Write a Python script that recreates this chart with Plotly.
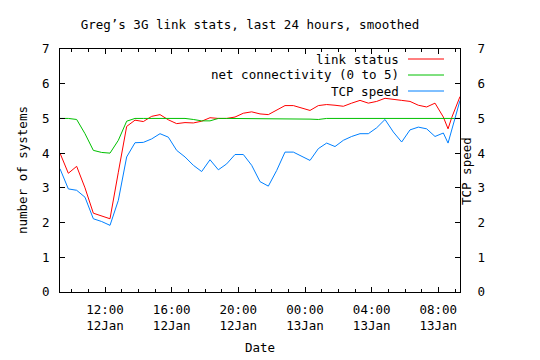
import plotly.graph_objects as go

times = [
    "2009-01-12 09:18", "2009-01-12 09:48", "2009-01-12 10:18", "2009-01-12 10:48",
    "2009-01-12 11:18", "2009-01-12 11:48", "2009-01-12 12:18", "2009-01-12 12:48",
    "2009-01-12 13:18", "2009-01-12 13:48", "2009-01-12 14:18", "2009-01-12 14:48",
    "2009-01-12 15:18", "2009-01-12 15:48", "2009-01-12 16:18", "2009-01-12 16:48",
    "2009-01-12 17:18", "2009-01-12 17:48", "2009-01-12 18:18", "2009-01-12 18:48",
    "2009-01-12 19:18", "2009-01-12 19:48", "2009-01-12 20:18", "2009-01-12 20:48",
    "2009-01-12 21:18", "2009-01-12 21:48", "2009-01-12 22:18", "2009-01-12 22:48",
    "2009-01-12 23:18", "2009-01-12 23:48", "2009-01-13 00:18", "2009-01-13 00:48",
    "2009-01-13 01:18", "2009-01-13 01:48", "2009-01-13 02:18", "2009-01-13 02:48",
    "2009-01-13 03:18", "2009-01-13 03:48", "2009-01-13 04:18", "2009-01-13 04:48",
    "2009-01-13 05:18", "2009-01-13 05:48", "2009-01-13 06:18", "2009-01-13 06:48",
    "2009-01-13 07:18", "2009-01-13 07:48", "2009-01-13 08:18", "2009-01-13 08:35",
    "2009-01-13 08:48", "2009-01-13 09:18",
]

link_status = [
    4.00, 3.42, 3.62, 3.00, 2.27, 2.19, 2.11, 3.45, 4.77, 4.95, 4.91, 5.06, 5.11,
    4.96, 4.85, 4.88, 4.87, 4.92, 5.02, 5.00, 5.00, 5.04, 5.15, 5.19, 5.13,
    5.11, 5.25, 5.37, 5.37, 5.31, 5.23, 5.37, 5.40, 5.38, 5.35, 5.44, 5.52,
    5.44, 5.49, 5.58, 5.54, 5.52, 5.49, 5.38, 5.33, 5.44, 5.04, 4.70, 5.02, 5.63,
]

net_connectivity = [
    5.00, 5.00, 4.97, 4.56, 4.08, 4.02, 4.00, 4.37, 4.92, 5.00, 5.00, 5.00, 5.00,
    5.00, 5.00, 5.00, 4.97, 4.93, 4.93, 5.00, 5.00, 5.00, 5.00, 5.00, 5.00,
    5.00, 5.00, 5.00, 5.00, 5.00, 4.98, 4.97, 5.00, 5.00, 5.00, 5.00, 5.00,
    5.00, 5.00, 5.02, 5.00, 5.00, 5.00, 5.00, 5.00, 5.00, 5.00, 5.00, 5.00, 5.00,
]

tcp_speed = [
    3.55, 2.97, 2.93, 2.73, 2.11, 2.03, 1.92, 2.64, 3.89, 4.30, 4.31, 4.41, 4.56,
    4.46, 4.08, 3.89, 3.65, 3.47, 3.81, 3.52, 3.69, 3.96, 3.96, 3.65, 3.18,
    3.05, 3.50, 4.03, 4.03, 3.91, 3.79, 4.13, 4.29, 4.19, 4.37, 4.48, 4.56,
    4.56, 4.73, 4.97, 4.61, 4.32, 4.67, 4.75, 4.70, 4.48, 4.58, 4.29, 4.65, 5.52,
]

series_names = ["link status", "net connectivity (0 to 5)", "TCP speed"]
series_colors = ["#ff0000", "#00c000", "#0080ff"]

FONT = "DejaVu Sans Mono"
FS = 12.5
W, H = 540, 360
L, R, T, B = 60, 80, 49, 68

fig = go.Figure()
fig.add_trace(go.Scatter(x=times, y=link_status, mode="lines", name=series_names[0],
                         line=dict(color=series_colors[0], width=1)))
fig.add_trace(go.Scatter(x=times, y=net_connectivity, mode="lines", name=series_names[1],
                         line=dict(color=series_colors[1], width=1)))
fig.add_trace(go.Scatter(x=times, y=tcp_speed, mode="lines", name=series_names[2],
                         line=dict(color=series_colors[2], width=1), yaxis="y2"))

fig.update_layout(
    width=W, height=H,
    margin=dict(l=L, r=R, t=T, b=B, autoexpand=False),
    paper_bgcolor="white", plot_bgcolor="white",
    showlegend=False,
    font=dict(family=FONT, size=FS, color="black"),
    title=dict(text="Greg\u2019s 3G link stats, last 24 hours, smoothed",
               x=250 / W, xref="container", xanchor="center",
               y=1 - 24.5 / H, yanchor="middle",
               font=dict(family=FONT, size=FS, color="black")),
    xaxis=dict(
        type="date", automargin=False,
        range=["2009-01-12 09:18", "2009-01-13 09:18"],
        tick0="2009-01-12 00:00", dtick=4 * 3600 * 1000,
        tickformat="%H:%M<br>%d%b",
        ticks="inside", ticklen=5, tickcolor="black", tickwidth=1,
        minor=dict(dtick=3600 * 1000, ticks="inside", ticklen=3, tickcolor="black", tickwidth=1),
        showline=True, linecolor="black", linewidth=1, mirror="ticks",
        showgrid=False, zeroline=False,
        title=dict(text="Date", standoff=10, font=dict(family=FONT, size=FS)),
        tickfont=dict(family=FONT, size=FS),
        ticklabelstandoff=6,
    ),
    yaxis=dict(
        range=[0, 7], dtick=1, automargin=False,
        ticks="inside", ticklen=5, tickcolor="black",
        showline=True, linecolor="black", linewidth=1, mirror=False,
        showgrid=False, zeroline=False,
        tickfont=dict(family=FONT, size=FS),
        ticklabelstandoff=7,
    ),
    yaxis2=dict(
        range=[0, 7], dtick=1, overlaying="y", side="right", automargin=False,
        ticks="inside", ticklen=5, tickcolor="black",
        showline=True, linecolor="black", linewidth=1,
        showgrid=False, zeroline=False,
        tickfont=dict(family=FONT, size=FS),
        ticklabelstandoff=14,
    ),
)

pw, ph = W - L - R, H - T - B

# axis titles placed like gnuplot
fig.add_annotation(text="number of systems", xref="paper", yref="paper",
                   x=(22 - L) / pw, y=(H - B - 170) / ph,
                   textangle=-90, showarrow=False, xanchor="center", yanchor="middle",
                   font=dict(family=FONT, size=FS))
fig.add_annotation(text="TCP speed", xref="paper", yref="paper",
                   x=(466 - L) / pw, y=(H - B - 171) / ph,
                   textangle=-90, showarrow=False, xanchor="center", yanchor="middle",
                   font=dict(family=FONT, size=FS))

# gnuplot-style key: text right-aligned, sample line to its right
key_rows = [59, 75, 91]
for name, color, yy in zip(series_names, series_colors, key_rows):
    yp = (H - B - yy) / ph
    fig.add_annotation(text=name, xref="paper", yref="paper",
                       x=(401 - L) / pw, y=yp, xanchor="right", yanchor="middle",
                       showarrow=False, font=dict(family=FONT, size=FS))
    fig.add_shape(type="line", xref="paper", yref="paper",
                  x0=(408 - L) / pw, x1=(444 - L) / pw, y0=yp, y1=yp,
                  line=dict(color=color, width=1))

fig.write_html("out.html", config={"displayModeBar": False},
               post_script="document.body.style.margin='0';")
